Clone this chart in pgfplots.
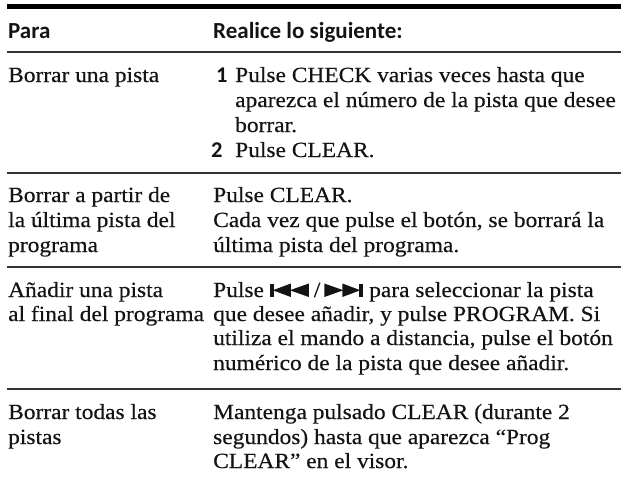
\documentclass[border=0pt]{standalone}
\usepackage{pgfplots}
\pgfplotsset{compat=1.18}
\usepackage{fontspec}
\setmainfont{Liberation Serif}[FakeStretch=1.085,FakeBold=0.4]
\newfontfamily\hdfont{Carlito}
\newcommand\hd{\hdfont\bfseries\fontsize{23bp}{25bp}\selectfont}
\newcommand\nm{\hdfont\bfseries\fontsize{22.5bp}{25bp}\selectfont}
\newcommand\Ln[3]{\node[anchor=base west,inner sep=0pt,text=black!92] at (axis cs:#1,#2) {#3};}
\newcommand\prevsym{\tikz[x=1bp,y=1bp,baseline=0pt]{\fill (0,0) rectangle (4,13.5); \fill (3,6.75)--(21,13.5)--(21,0)--cycle; \fill (20,6.75)--(39,13.5)--(39,0)--cycle;}}
\newcommand\nextsym{\tikz[x=1bp,y=1bp,baseline=0pt]{\fill (0,0)--(19,6.75)--(0,13.5)--cycle; \fill (18,0)--(36,6.75)--(18,13.5)--cycle; \fill (35,0) rectangle (39,13.5);}}
\begin{document}
\fontsize{21.6bp}{25bp}\selectfont
\begin{tikzpicture}
\begin{axis}[hide axis, scale only axis, width=621bp, height=480bp,
  xmin=0, xmax=621, ymin=0, ymax=480, y dir=reverse, clip=false]
\addplot[black, line width=5bp] coordinates {(7,6.7) (621,6.7)};
\addplot[black!80, line width=1.4bp] coordinates {(7,52) (621,52)};
\addplot[black!80, line width=1.4bp] coordinates {(7,173) (621,173)};
\addplot[black!80, line width=1.4bp] coordinates {(7,267) (621,267)};
\addplot[black!80, line width=1.4bp] coordinates {(7,389) (621,389)};
% header
\Ln{8}{38}{\hd Para}
\Ln{213}{38}{\hd Realice lo siguiente:}
% row 1
\Ln{8}{82}{Borrar una pista}
\Ln{216}{82}{\nm 1}
\Ln{235}{82}{Pulse CHECK varias veces hasta que}
\Ln{235}{107}{aparezca el número de la pista que desee}
\Ln{235}{132}{borrar.}
\Ln{211}{157}{\nm 2}
\Ln{235}{157}{Pulse CLEAR.}
% row 2
\Ln{8}{202}{Borrar a partir de}
\Ln{8}{227}{la última pista del}
\Ln{8}{252}{programa}
\Ln{213}{202}{Pulse CLEAR.}
\Ln{213}{227}{Cada vez que pulse el botón, se borrará la}
\Ln{213}{252}{última pista del programa.}
% row 3
\Ln{8}{297}{Añadir una pista}
\Ln{8}{321}{al final del programa}
\Ln{213}{297}{Pulse \prevsym\hspace{5bp}/\hspace{4bp}\nextsym{} para seleccionar la pista}
\Ln{213}{321}{que desee añadir, y pulse PROGRAM. Si}
\Ln{213}{345}{utiliza el mando a distancia, pulse el botón}
\Ln{213}{370}{numérico de la pista que desee añadir.}
% row 4
\Ln{8}{419}{Borrar todas las}
\Ln{8}{444}{pistas}
\Ln{213}{419}{Mantenga pulsado CLEAR (durante 2}
\Ln{213}{444}{segundos) hasta que aparezca “Prog}
\Ln{213}{468}{CLEAR” en el visor.}
\end{axis}
\pgfresetboundingbox
\path (0,0) rectangle (621bp,480bp);
\end{tikzpicture}
\end{document}
